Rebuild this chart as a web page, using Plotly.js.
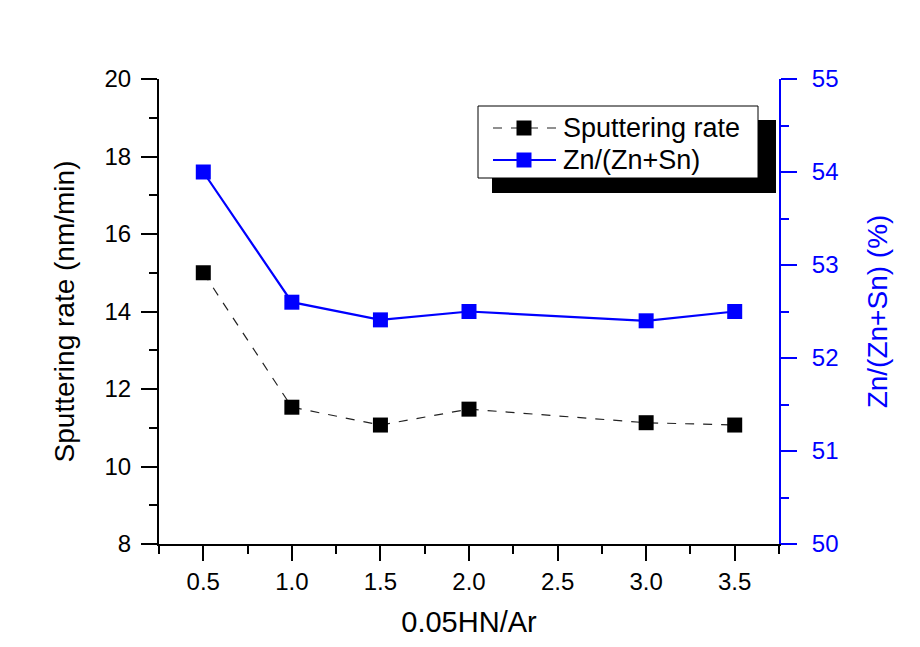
<!DOCTYPE html>
<html>
<head>
<meta charset="utf-8">
<script src="https://cdn.plot.ly/plotly-3.0.1.min.js"></script>
<style>html,body{margin:0;padding:0;background:#fff;}#chart{width:920px;height:647px;}</style>
</head>
<body>
<div id="chart"></div>
<script>
var ratio = [0.5, 1.0, 1.5, 2.0, 3.0, 3.5];
var sputteringRate = [15.0, 11.53, 11.07, 11.48, 11.13, 11.07];
var znRatio = [54.0, 52.6, 52.41, 52.5, 52.4, 52.5];
var xTickVals = [0.5, 1.0, 1.5, 2.0, 2.5, 3.0, 3.5];
var xTickText = ["0.5", "1.0", "1.5", "2.0", "2.5", "3.0", "3.5"];
var seriesNames = ["Sputtering rate", "Zn/(Zn+Sn)"];
var seriesColors = ["#000000", "#0000ff"];

var traces = [
  {
    x: ratio, y: sputteringRate, name: seriesNames[0], type: "scatter", mode: "lines+markers",
    line: {color: "#222", width: 1.2, dash: "dash"},
    marker: {symbol: "square", size: 15, color: seriesColors[0]},
    xaxis: "x", yaxis: "y"
  },
  {
    x: ratio, y: znRatio, name: seriesNames[1], type: "scatter", mode: "lines+markers",
    line: {color: seriesColors[1], width: 2.2},
    marker: {symbol: "square", size: 15, color: seriesColors[1]},
    xaxis: "x", yaxis: "y2"
  }
];

var font = "Liberation Sans, Arial, sans-serif";

// Legend (drawn manually to match the boxed, shadowed legend)
var L = 159, W = 620, B = 544, H = 465;
function px(x) { return (x - L) / W; }
function py(y) { return (B - y) / H; }
var rows = [128, 160];
var shapes = [
  {type: "rect", xref: "paper", yref: "paper", layer: "above",
   x0: px(492), x1: px(776), y0: py(193), y1: py(120), fillcolor: "#000", line: {width: 0}},
  {type: "rect", xref: "paper", yref: "paper", layer: "above",
   x0: px(478), x1: px(758), y0: py(178), y1: py(106), fillcolor: "#fff", line: {color: "#000", width: 1}},
  {type: "line", xref: "paper", yref: "paper", layer: "above",
   x0: px(493), x1: px(556), y0: py(rows[0]), y1: py(rows[0]), line: {color: "#222", width: 1.2, dash: "dash"}},
  {type: "rect", xref: "paper", yref: "paper", layer: "above",
   x0: px(524 - 7.5), x1: px(524 + 7.5), y0: py(rows[0] + 7.5), y1: py(rows[0] - 7.5), fillcolor: seriesColors[0], line: {width: 0}},
  {type: "line", xref: "paper", yref: "paper", layer: "above",
   x0: px(493), x1: px(556), y0: py(rows[1]), y1: py(rows[1]), line: {color: seriesColors[1], width: 2.2}},
  {type: "rect", xref: "paper", yref: "paper", layer: "above",
   x0: px(524 - 7.5), x1: px(524 + 7.5), y0: py(rows[1] + 7.5), y1: py(rows[1] - 7.5), fillcolor: seriesColors[1], line: {width: 0}}
];
var annotations = seriesNames.map(function (n, i) {
  return {text: n, xref: "paper", yref: "paper", x: px(561), y: py(rows[i]),
          xanchor: "left", yanchor: "middle", showarrow: false,
          font: {family: font, size: 27, color: "#000"}};
});

var layout = {
  width: 920, height: 647,
  margin: {l: 159, r: 141, t: 79, b: 103},
  paper_bgcolor: "#ffffff", plot_bgcolor: "#ffffff",
  font: {family: font, size: 24, color: "#000"},
  showlegend: false,
  xaxis: {
    range: [0.25, 3.75], tickvals: xTickVals, ticktext: xTickText,
    ticks: "outside", ticklen: 15, tickwidth: 2, tickcolor: "#000",
    showline: true, linewidth: 2, linecolor: "#000",
    showgrid: false, zeroline: false,
    minor: {ticks: "outside", ticklen: 8, tickwidth: 2, tickcolor: "#000", tick0: 0.25, dtick: 0.5, showgrid: false},
    tickfont: {size: 24, color: "#000"},
    title: {text: "0.05HN/Ar", font: {size: 29, color: "#000"}, standoff: 18},
    anchor: "y"
  },
  xaxis2: {
    range: [0.25, 3.75], overlaying: "x", side: "top", anchor: "y",
    tickvals: xTickVals, showticklabels: false,
    ticks: "inside", ticklen: 16, tickwidth: 2, tickcolor: "#000",
    showline: true, linewidth: 2, linecolor: "#000",
    showgrid: false, zeroline: false,
    minor: {ticks: "inside", ticklen: 8, tickwidth: 2, tickcolor: "#000", tick0: 0.25, dtick: 0.5, showgrid: false}
  },
  yaxis: {
    range: [8, 20], dtick: 2, tick0: 8,
    ticks: "outside", ticklen: 16, tickwidth: 2, tickcolor: "#000",
    showline: true, linewidth: 2, linecolor: "#000",
    showgrid: false, zeroline: false, ticklabelstandoff: 5,
    minor: {ticks: "outside", ticklen: 8, tickwidth: 2, tickcolor: "#000", dtick: 1, showgrid: false},
    tickfont: {size: 24, color: "#000"},
    title: {text: "Sputtering rate (nm/min)", font: {size: 28, color: "#000"}, standoff: 22}
  },
  yaxis2: {
    range: [50, 55], dtick: 1, tick0: 50, overlaying: "y", side: "right", anchor: "x",
    ticks: "outside", ticklen: 16, tickwidth: 2, tickcolor: "#0000ff",
    showline: true, linewidth: 2, linecolor: "#0000ff",
    showgrid: false, zeroline: false, ticklabelstandoff: 10,
    minor: {ticks: "outside", ticklen: 8, tickwidth: 2, tickcolor: "#0000ff", dtick: 0.5, showgrid: false},
    tickfont: {size: 24, color: "#0000ff"},
    title: {text: "Zn/(Zn+Sn) (%)", font: {size: 28, color: "#0000ff"}, standoff: 30}
  },
  shapes: shapes,
  annotations: annotations
};

Plotly.newPlot("chart", traces, layout, {displayModeBar: false, staticPlot: true});
</script>
</body>
</html>
